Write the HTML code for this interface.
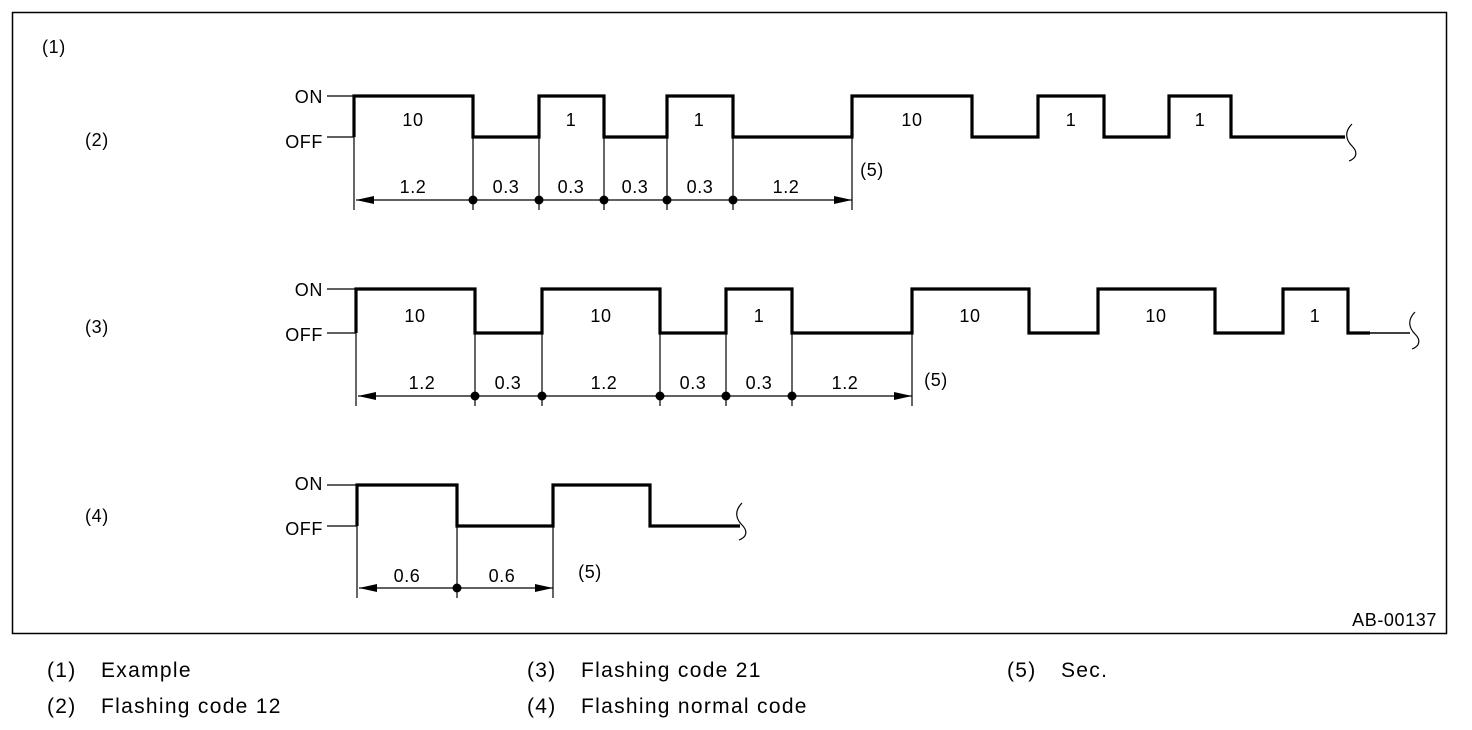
<!DOCTYPE html>
<html><head><meta charset="utf-8"><style>
body{margin:0;background:#fff;}
svg{display:block;font-family:"Liberation Sans",Arial,sans-serif;}
</style></head><body>
<svg width="1472" height="730" viewBox="0 0 1472 730" xmlns="http://www.w3.org/2000/svg">
<defs>
<marker id="a" viewBox="0 0 18 8" refX="18" refY="4" markerWidth="18" markerHeight="8" markerUnits="userSpaceOnUse" orient="auto-start-reverse"><path d="M0,0 L18,4 L0,8 Z" fill="#000"/></marker>
</defs>
<rect x="12.5" y="12.5" width="1434" height="621" fill="none" stroke="#000" stroke-width="1.5"/>
<g font-size="18" fill="#000" letter-spacing="0.6">
<text x="42" y="53">(1)</text>
<text x="85" y="146">(2)</text>
<text x="85" y="333">(3)</text>
<text x="85" y="522">(4)</text>
<text x="1437" y="626" text-anchor="end">AB-00137</text>
<text x="323" y="103" text-anchor="end">ON</text>
<text x="323" y="148" text-anchor="end">OFF</text>
<text x="323" y="296" text-anchor="end">ON</text>
<text x="323" y="341" text-anchor="end">OFF</text>
<text x="323" y="490" text-anchor="end">ON</text>
<text x="323" y="535" text-anchor="end">OFF</text>
</g>
<g stroke="#000" stroke-width="1.2" fill="none">
<path d="M327,96H354M327,137H354M327,289H356M327,333H356M327,485H357M327,526H357"/>
<path d="M354,137V210M473,137V210M539,137V210M604,137V210M667,137V210M733,137V210M852,137V210"/>
<path d="M356,333V406M475,333V406M542,333V406M660,333V406M726,333V406M792,333V406M912,333V406"/>
<path d="M357,526V598M457,526V598M553,526V598"/>
<line x1="356" y1="200" x2="852" y2="200" marker-start="url(#a)" marker-end="url(#a)"/>
<line x1="358" y1="396" x2="912" y2="396" marker-start="url(#a)" marker-end="url(#a)"/>
<line x1="359" y1="588" x2="553" y2="588" marker-start="url(#a)" marker-end="url(#a)"/>
<path d="M1352,124C1344,132 1346,140 1352,146C1358,152 1357,158 1349,161"/>
<path d="M1415,312C1407,320 1409,328 1415,334C1421,340 1420,346 1412,349"/>
<path d="M742,503C734,511 736,519 742,525C748,531 747,537 739,540"/>
</g>
<g stroke="#000" stroke-width="3.2" fill="none" stroke-linejoin="miter">
<path d="M354,137V96H473V137H539V96H604V137H667V96H733V137H852V96H972V137H1038V96H1104V137H1169V96H1231V137H1345"/>
<path d="M356,333V289H475V333H542V289H660V333H726V289H792V333H912V289H1029V333H1098V289H1215V333H1283V289H1348V333H1370"/>
<path d="M357,526V485H457V526H553V485H650V526H740"/>
</g>
<path d="M1370,333H1410" stroke="#000" stroke-width="1.5"/>
<g fill="#000">
<circle cx="473" cy="200" r="4.5"/><circle cx="539" cy="200" r="4.5"/><circle cx="604" cy="200" r="4.5"/><circle cx="667" cy="200" r="4.5"/><circle cx="733" cy="200" r="4.5"/>
<circle cx="475" cy="396" r="4.5"/><circle cx="542" cy="396" r="4.5"/><circle cx="660" cy="396" r="4.5"/><circle cx="726" cy="396" r="4.5"/><circle cx="792" cy="396" r="4.5"/>
<circle cx="457" cy="588" r="4.5"/>
</g>
<g font-size="18" fill="#000" text-anchor="middle" letter-spacing="0.6">
<text x="413" y="126">10</text><text x="571" y="126">1</text><text x="699" y="126">1</text><text x="912" y="126">10</text><text x="1071" y="126">1</text><text x="1200" y="126">1</text>
<text x="413" y="193">1.2</text><text x="506" y="193">0.3</text><text x="571" y="193">0.3</text><text x="635" y="193">0.3</text><text x="700" y="193">0.3</text><text x="786" y="193">1.2</text>
<text x="872" y="176">(5)</text>
<text x="415" y="322">10</text><text x="601" y="322">10</text><text x="759" y="322">1</text><text x="970" y="322">10</text><text x="1156" y="322">10</text><text x="1315" y="322">1</text>
<text x="422" y="389">1.2</text><text x="508" y="389">0.3</text><text x="604" y="389">1.2</text><text x="693" y="389">0.3</text><text x="759" y="389">0.3</text><text x="845" y="389">1.2</text>
<text x="936" y="386">(5)</text>
<text x="407" y="582">0.6</text><text x="502" y="582">0.6</text>
<text x="590" y="578">(5)</text>
</g>
<g font-size="21" fill="#000" letter-spacing="1.3">
<text x="47" y="677">(1)</text><text x="101" y="677">Example</text>
<text x="47" y="713">(2)</text><text x="101" y="713">Flashing code 12</text>
<text x="527" y="677">(3)</text><text x="581" y="677">Flashing code 21</text>
<text x="527" y="713">(4)</text><text x="581" y="713">Flashing normal code</text>
<text x="1007" y="677">(5)</text><text x="1061" y="677">Sec.</text>
</g>
</svg>
</body></html>
